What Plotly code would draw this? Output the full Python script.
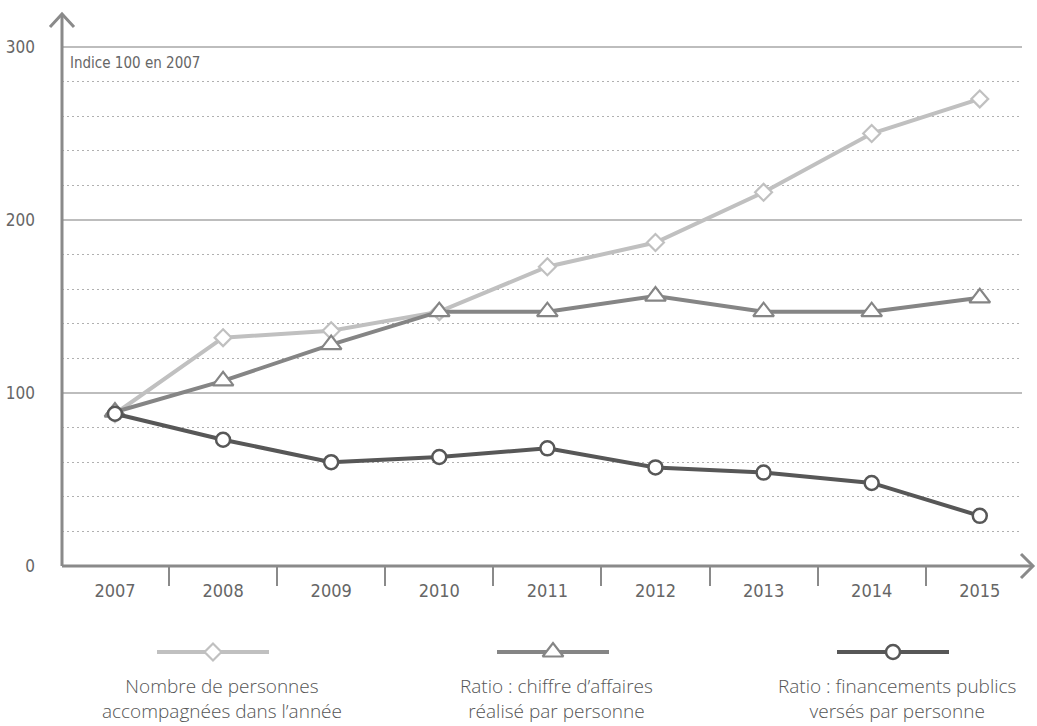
import plotly.graph_objects as go

years = [2007, 2008, 2009, 2010, 2011, 2012, 2013, 2014, 2015]
personnes = [88, 132, 136, 147, 173, 187, 216, 250, 270]
ca_ratio = [89, 107, 128, 147, 147, 156, 147, 147, 155]
fin_ratio = [88, 73, 60, 63, 68, 57, 54, 48, 29]
y_ticks = [0, 100, 200, 300]
legend_names = ["Nombre de personnes<br>accompagnées dans l’année",
                "Ratio : chiffre d’affaires<br>réalisé par personne",
                "Ratio : financements publics<br>versés par personne"]

COND = "DejaVu Sans Condensed, Liberation Sans Narrow, sans-serif"
SANS = "Open Sans, Lato, sans-serif"
C_LIGHT, C_MED, C_DARK = "#c0c0c0", "#858585", "#575757"
AX = "#8a8a8a"

W, H = 1037, 726
ML, MR, MT, MB = 62, 1037 - 1022, 15, 50
PW, PH = W - ML - MR, H - MT - MB
Y0PX = 566
main_bottom = (H - MB - Y0PX) / PH
leg_dom = 0.14
px_per_unit = 1.73

fig = go.Figure()
series = [
    (personnes, C_LIGHT, "diamond", 13, 2.2),
    (ca_ratio, C_MED, "triangle-up", 18, 2.2),
    (fin_ratio, C_DARK, "circle", 14, 2.5),
]
for vals, col, sym, size, lw in series:
    fig.add_trace(go.Scatter(
        x=years, y=vals, mode="lines+markers",
        line=dict(color=col, width=4),
        marker=dict(symbol=sym, size=size, color="white", line=dict(color=col, width=lw)),
        cliponaxis=False, showlegend=False, hoverinfo="skip"))


def px(x):
    """page pixel x -> paper fraction"""
    return (x - ML) / PW


def py(y):
    """page pixel y -> paper fraction"""
    return (H - MB - y) / PH


# legend keys on a helper axis measured in page pixels
leg_x = [213, 553, 893]
leg_text_x = [222, 556, 897]
leg_half = 56
leg_y = 652
for (vals, col, sym, size, lw), cx in zip(series, leg_x):
    fig.add_trace(go.Scatter(
        x=[cx - leg_half, cx + leg_half], y=[leg_y, leg_y], mode="lines",
        line=dict(color=col, width=4), xaxis="x2", yaxis="y2",
        showlegend=False, hoverinfo="skip"))
    fig.add_trace(go.Scatter(
        x=[cx], y=[leg_y], mode="markers",
        marker=dict(symbol=sym, size=size, color="white", line=dict(color=col, width=lw)),
        xaxis="x2", yaxis="y2", cliponaxis=False, showlegend=False, hoverinfo="skip"))

x_lo = 2006.51
x_hi = x_lo + PW / 108.1
fig.update_layout(
    width=W, height=H, paper_bgcolor="white", plot_bgcolor="white",
    margin=dict(l=ML, r=MR, t=MT, b=MB, autoexpand=False),
    xaxis=dict(range=[x_lo, x_hi], tickvals=years, ticktext=[str(y) for y in years],
               ticks="", showgrid=False, zeroline=False, showline=False, automargin=False,
               tickfont=dict(family=COND, size=18, color="#666"), ticklabelstandoff=12,
               minor=dict(tick0=2007.5, dtick=1, ticks="outside", ticklen=19,
                          tickwidth=1.5, tickcolor=AX, showgrid=False),
               anchor="y"),
    yaxis=dict(domain=[main_bottom, 1], range=[0, (Y0PX - MT) / px_per_unit],
               tickvals=y_ticks, ticks="", showgrid=True, gridcolor="#bdbdbd", gridwidth=1.5,
               zeroline=False, showline=False, automargin=False,
               tickfont=dict(family=COND, size=17, color="#666"), ticklabelstandoff=26,
               minor=dict(dtick=20, tick0=0, showgrid=True, gridcolor="#b0b0b0",
                          griddash="2px,3px", gridwidth=1.3)),
    xaxis2=dict(domain=[0, 1], range=[ML, W - MR], visible=False, anchor="y2"),
    yaxis2=dict(domain=[0, leg_dom], range=[H - MB, H - MB - leg_dom * PH],
                visible=False, anchor="x2"),
)

for cx, name in zip(leg_text_x, legend_names):
    fig.add_annotation(x=px(cx), y=py(698), xref="paper", yref="paper", text=name,
                       showarrow=False, align="center", xanchor="center", yanchor="middle",
                       font=dict(family=SANS, size=19, color="#555", weight=300))

# axis lines with arrows
shapes = [
    dict(type="line", x0=px(62), x1=px(62), y0=py(566), y1=py(14)),
    dict(type="line", x0=px(62), x1=px(1033), y0=py(566), y1=py(566)),
    dict(type="path", path=f"M {px(50)},{py(27)} L {px(62)},{py(14)} L {px(74)},{py(27)}"),
    dict(type="path", path=f"M {px(1021)},{py(554)} L {px(1033)},{py(566)} L {px(1021)},{py(578)}"),
]
for s in shapes:
    s.update(xref="paper", yref="paper", line=dict(color=AX, width=3))
    fig.add_shape(**s)

fig.add_annotation(x=px(68), y=300 - 3, xref="paper", yref="y", xanchor="left", yanchor="top",
                   text="Indice 100 en 2007", showarrow=False,
                   font=dict(family=COND, size=15, color="#666"))

fig.write_html("out.html", config={"displayModeBar": False},
               post_script="document.body.style.margin='0';document.body.style.overflow='hidden';")
